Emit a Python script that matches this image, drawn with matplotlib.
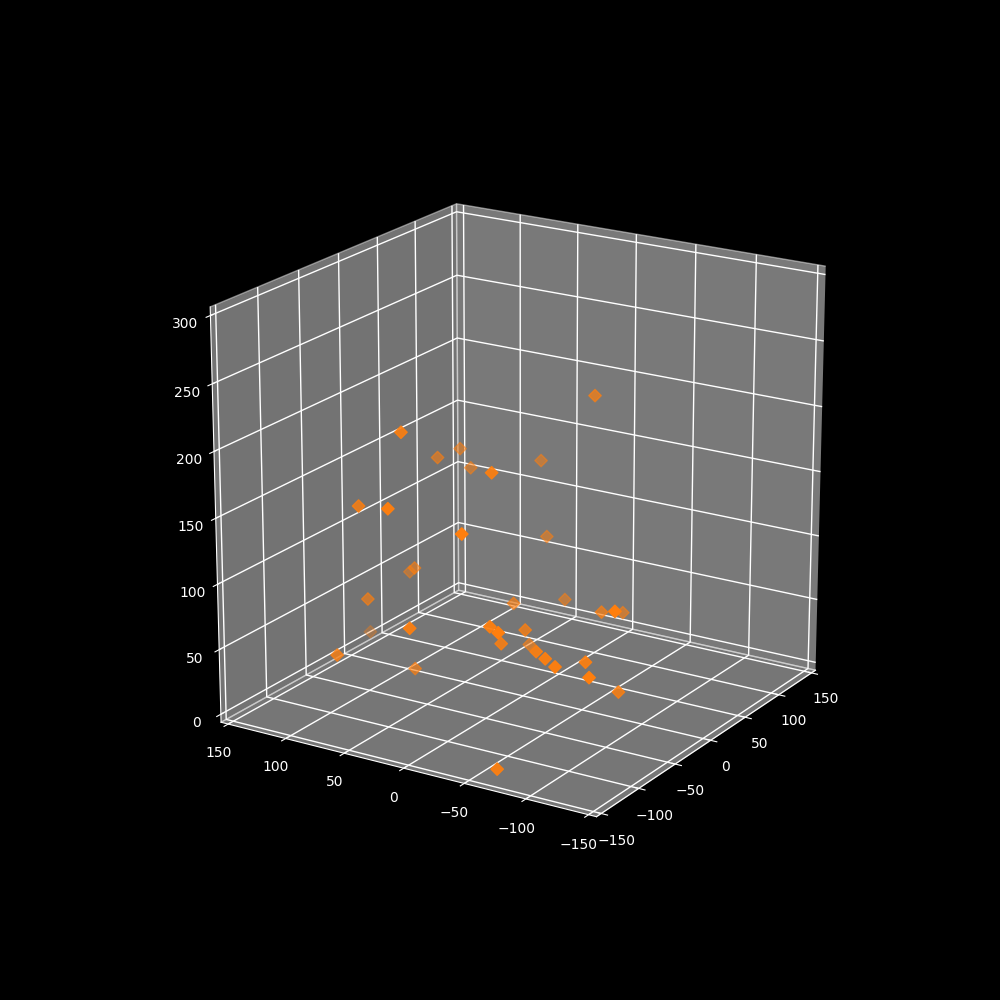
import matplotlib
matplotlib.use('Agg')
import matplotlib.pyplot as plt

# values
x = [19, -106, -22, 3, 3, -87, 31, -121, -147, -133, 18, -53, -26, -92, -10, -147, -38, 12,
     -22, -93, 16, -147, -88, -126, -139, -102, -69, -25, -106, -112, -117, -90, -115, -62, -147]
y = [-48, 33, 58, 55, 46, -29, 4, 59, 17, -34, -9, 58, 80, 72, 126, 0, -16, -28,
     -79, -132, -74, 61, 35, -52, -67, -46, -45, -21, -77, -88, -99, -107, -125, -117, -71]
z = [228, 222, 174, 174, 161, 198, 166, 167, 181, 168, 114, 99, 83, 85, 21, 96, 82, 71,
     83, 118, 69, 63, 38, 101, 104, 79, 78, 47, 81, 80, 78, 74, 75, 44, 6]

plt.style.use('dark_background')
plt.rcParams['axes3d.automargin'] = True
plt.rcParams['grid.linewidth'] = 1.0

fig = plt.figure(figsize=(10, 10), dpi=100)
ax = fig.add_subplot(projection='3d')
ax.set_box_aspect((1, 1, 0.99), zoom=0.955)
ax.set_xlim(-150, 150)
ax.set_ylim(-150, 150)
ax.set_zlim(0, 300)
ax.view_init(elev=19.5, azim=-148)

ax.scatter(x, y, z, c='#ff7f0e', marker='D', s=40)

fig.savefig('out.png')
